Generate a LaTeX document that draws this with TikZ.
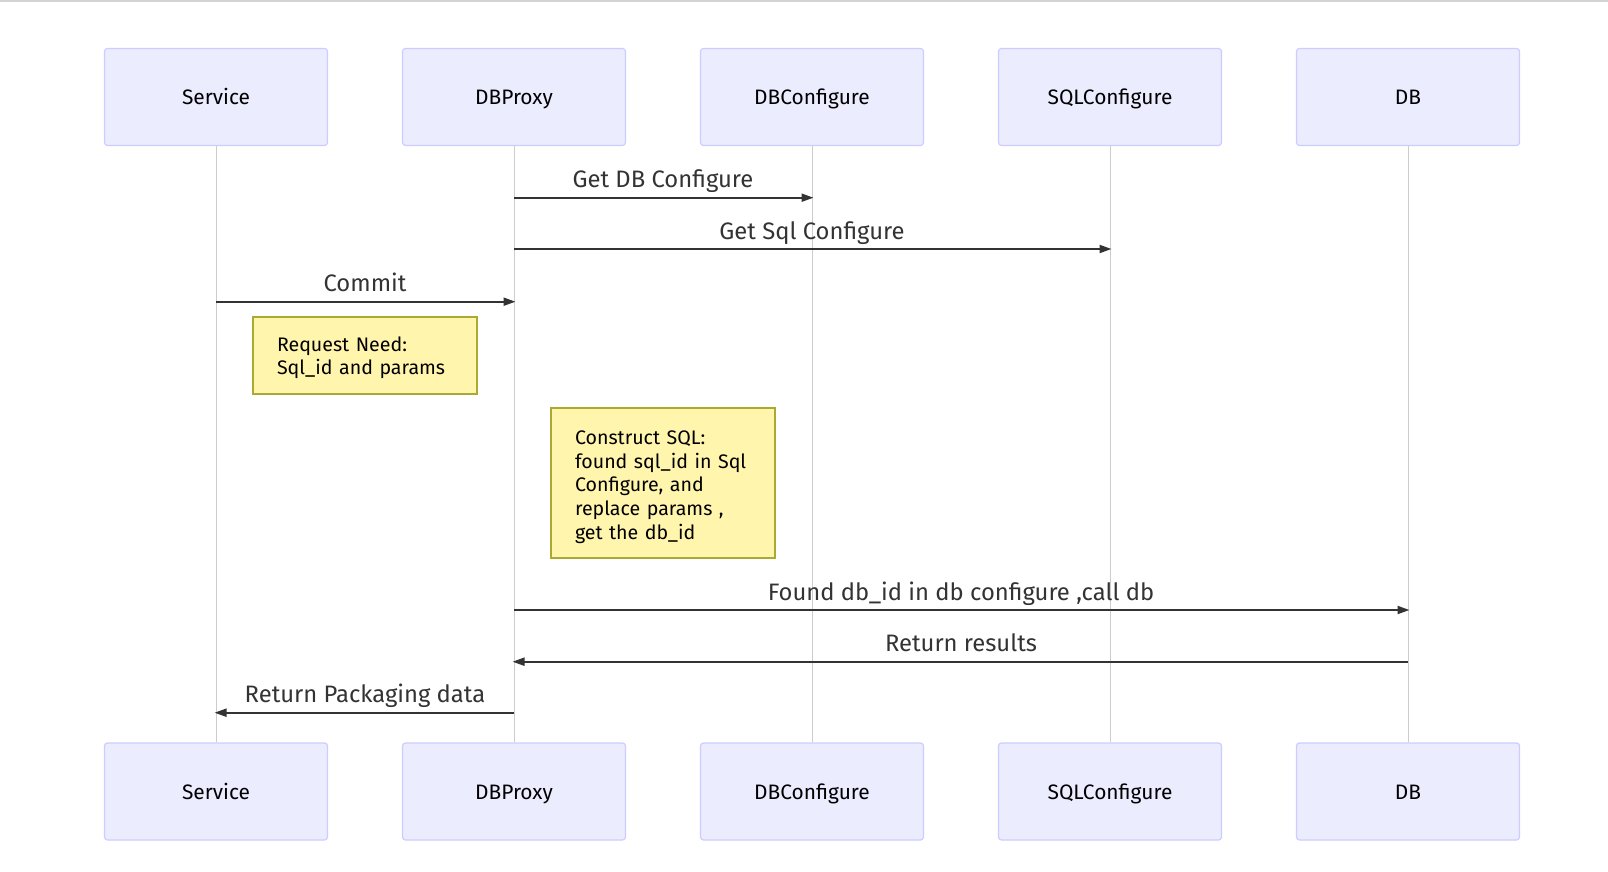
\documentclass[tikz,border=0pt]{standalone}
\usepackage{fontspec}
\setmainfont{Fira Sans}
\usetikzlibrary{arrows.meta}
\definecolor{actfill}{HTML}{ECECFF}
\definecolor{actdraw}{HTML}{CCCCFF}
\definecolor{notefill}{HTML}{FFF5AD}
\definecolor{notedraw}{HTML}{AAAA33}
\definecolor{lifec}{HTML}{CCCCCC}
\definecolor{msgc}{HTML}{333333}
\definecolor{topline}{HTML}{D3D3D3}
\tikzset{
  actor/.style={draw=actdraw, fill=actfill, line width=1.2pt, rounded corners=3pt,
    minimum width=223pt, minimum height=97pt, inner sep=0pt,
    text height=16pt, text depth=0pt,
    font=\fontsize{20.9}{25}\selectfont, text=black},
  notebox/.style={draw=notedraw, fill=notefill, line width=1.2pt,
    minimum width=224pt, inner sep=0pt, text width=176pt, align=left,
    font=\fontsize{19.6}{23.6}\selectfont, text=black},
  life/.style={draw=lifec, line width=1pt},
  msg/.style={draw=msgc, line width=2pt, shorten >=-1.5pt, -{Triangle[length=12pt,width=8pt]}},
  msglabel/.style={font=\fontsize{23.8}{28}\selectfont, text=msgc, inner sep=0pt,
    text height=16.4pt, text depth=0pt}
}
\begin{document}
\begin{tikzpicture}[x=1pt,y=-1pt]
\useasboundingbox (0,0) rectangle (1608,872);
\fill[white] (0,0) rectangle (1608,872);
\fill[topline] (0,0) rectangle (1608,2);
% actors top
\node[actor] (t1) at (216,97) {Service};
\node[actor] (t2) at (514,97) {DBProxy};
\node[actor] (t3) at (812,97) {DBConfigure};
\node[actor] (t4) at (1110,97) {SQLConfigure};
\node[actor] (t5) at (1408,97) {DB};
% actors bottom
\node[actor] (b1) at (216,791.5) {Service};
\node[actor] (b2) at (514,791.5) {DBProxy};
\node[actor] (b3) at (812,791.5) {DBConfigure};
\node[actor] (b4) at (1110,791.5) {SQLConfigure};
\node[actor] (b5) at (1408,791.5) {DB};
% lifelines
\foreach \i in {1,...,5} { \draw[life] (t\i.south) -- (b\i.north); }
% message rows
\coordinate (y1) at (0,197.7);
\coordinate (y2) at (0,249);
\coordinate (y3) at (0,301.7);
\coordinate (y4) at (0,610);
\coordinate (y5) at (0,661.7);
\coordinate (y6) at (0,712.7);
\draw[msg] (t2 |- y1) -- node[msglabel, yshift=18pt] (l1) {Get DB Configure} (t3 |- y1);
\draw[msg] (t2 |- y2) -- node[msglabel, yshift=18pt] (l2) {Get Sql Configure} (t4 |- y2);
\draw[msg] (t1 |- y3) -- node[msglabel, yshift=18pt] (l3) {Commit} (t2 |- y3);
\draw[msg] (t2 |- y4) -- node[msglabel, yshift=18pt] (l4) {Found db\_id in db configure ,call db} (t5 |- y4);
\draw[msg] (t5 |- y5) -- node[msglabel, yshift=18pt] (l5) {Return results} (t2 |- y5);
\draw[msg] (t2 |- y6) -- node[msglabel, yshift=18pt] (l6) {Return Packaging data} (t1 |- y6);
% notes
\node[notebox, minimum height=77pt] (n1) at (365,355.5) {\rule{0pt}{19pt}Request Need:\\Sql\_id and params};
\node[notebox, minimum height=150pt] (n2) at (663,483) {\rule{0pt}{22pt}Construct SQL:\\found sql\_id in Sql\\Configure, and\\replace params ,\\get the db\_id};
\end{tikzpicture}
\end{document}
